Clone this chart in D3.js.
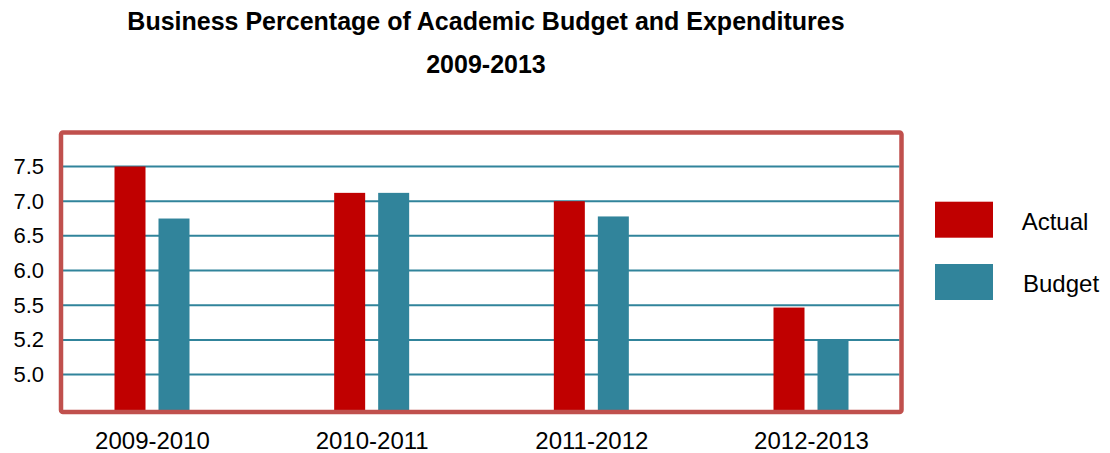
<!DOCTYPE html>
<html>
<head>
<meta charset="utf-8">
<script src="https://cdn.jsdelivr.net/npm/d3@7"></script>
<style>
  html, body { margin: 0; padding: 0; background: #ffffff; }
  svg { display: block; }
  text { font-family: "Liberation Sans", Arial, sans-serif; fill: #000000; }
</style>
</head>
<body>
<svg id="chart" width="1110" height="453"></svg>
<script>
// Fiscal years shown along the bottom
const categories = ["2009-2010", "2010-2011", "2011-2012", "2012-2013"];
// Business share of the academic budget (%)
const actualValues = [7.5, 7.12, 7.0, 5.48];
const budgetValues = [6.75, 7.12, 6.78, 5.2];
const seriesNames = ["Actual", "Budget"];
// Axis labels, drawn evenly spaced from bottom to top
const yTickValues = [5.0, 5.2, 5.5, 6.0, 6.5, 7.0, 7.5];
const yBaseValue = 4.8;
const titleLines = ["Business Percentage of Academic Budget and Expenditures", "2009-2013"];

const colors = { Actual: "#C00000", Budget: "#31849B" };
const frameColor = "#C0504D";
const gridColor = "#31849B";

const svg = d3.select("#chart");

// Frame of the plot area
const frame = { left: 61, right: 901.5, top: 132.5, bottom: 412 };

// Vertical scale: each labelled value sits on an evenly spaced gridline
const yTop = 166.5, yBottom = 409.3;
const yDomain = [yBaseValue].concat(yTickValues);
const yStep = (yBottom - yTop) / (yDomain.length - 1);
const y = d3.scaleLinear()
  .domain(yDomain)
  .range(yDomain.map((d, i) => yBottom - i * yStep));

// Horizontal scales: group centres and bars within each group
const x0 = d3.scalePoint().domain(categories).range([152, 811]);
const x1 = d3.scaleBand().domain(seriesNames).range([-37.5, 37.5]).paddingInner(0.2955);

const rows = categories.map((c, i) => ({
  category: c,
  values: [
    { key: "Actual", value: actualValues[i] },
    { key: "Budget", value: budgetValues[i] }
  ]
}));

// Title
svg.append("g").selectAll("text")
  .data(titleLines)
  .join("text")
  .attr("x", 486)
  .attr("y", (d, i) => 29.5 + i * 43.5)
  .attr("text-anchor", "middle")
  .style("font-size", "25px")
  .style("font-weight", "bold")
  .text(d => d);

// Gridlines
svg.append("g").selectAll("line")
  .data(yTickValues)
  .join("line")
  .attr("x1", frame.left + 2)
  .attr("x2", frame.right - 2)
  .attr("y1", d => y(d))
  .attr("y2", d => y(d))
  .attr("stroke", gridColor)
  .attr("stroke-width", 2);

// Y axis labels
const yAxis = d3.axisLeft(y)
  .tickValues(yTickValues)
  .tickFormat(d3.format(".1f"))
  .tickSize(0)
  .tickPadding(0);
const yAxisG = svg.append("g")
  .attr("transform", "translate(44,0)")
  .call(yAxis);
yAxisG.select(".domain").remove();
yAxisG.selectAll("text")
  .style("font-family", "'Liberation Sans', Arial, sans-serif")
  .style("font-size", "22px")
  .attr("fill", "#000");

// Bars
const groups = svg.append("g").selectAll("g")
  .data(rows)
  .join("g")
  .attr("transform", d => `translate(${x0(d.category)},0)`);

groups.selectAll("rect")
  .data(d => d.values)
  .join("rect")
  .attr("x", d => x1(d.key))
  .attr("width", x1.bandwidth())
  .attr("y", d => y(d.value))
  .attr("height", d => y(yBaseValue) + 2 - y(d.value))
  .attr("fill", d => colors[d.key]);

// Plot frame
svg.append("rect")
  .attr("x", frame.left)
  .attr("y", frame.top)
  .attr("width", frame.right - frame.left)
  .attr("height", frame.bottom - frame.top)
  .attr("rx", 2)
  .attr("fill", "none")
  .attr("stroke", frameColor)
  .attr("stroke-width", 4.5);

// X axis labels
const xAxis = d3.axisBottom(x0).tickSize(0).tickPadding(0);
const xAxisG = svg.append("g")
  .attr("transform", "translate(0,432)")
  .call(xAxis);
xAxisG.select(".domain").remove();
xAxisG.selectAll("text")
  .style("font-family", "'Liberation Sans', Arial, sans-serif")
  .style("font-size", "24px")
  .attr("fill", "#000");

// Legend
const legend = svg.append("g").selectAll("g")
  .data(seriesNames)
  .join("g")
  .attr("transform", (d, i) => `translate(935,${201.7 + i * 62.3})`);
legend.append("rect")
  .attr("width", 58)
  .attr("height", 36)
  .attr("fill", d => colors[d]);
legend.append("text")
  .attr("x", (d, i) => 86.7 + i * 1.3)
  .attr("y", 28.3)
  .style("font-size", "24px")
  .text(d => d);
</script>
</body>
</html>
